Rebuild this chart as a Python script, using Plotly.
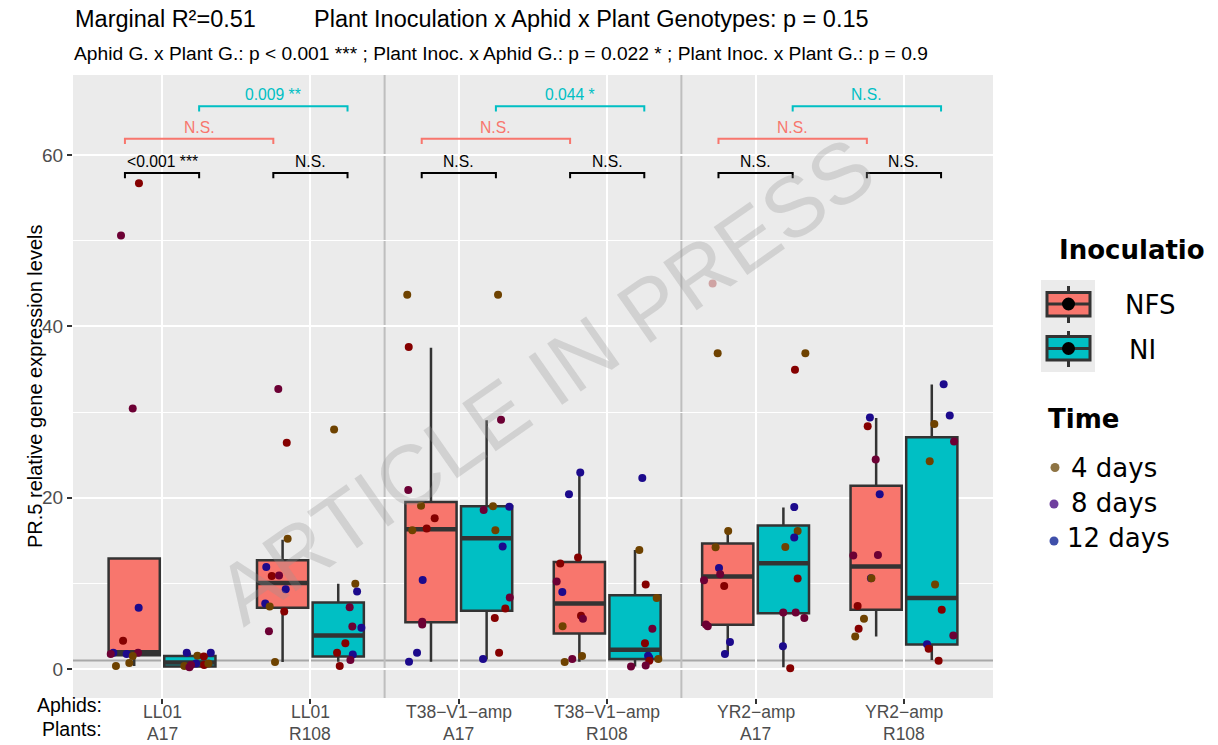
import plotly.graph_objects as go

# ---- categories -------------------------------------------------------------
aphids = ["LL01", "LL01", "T38−V1−amp", "T38−V1−amp", "YR2−amp", "YR2−amp"]
plants = ["A17", "R108", "A17", "R108", "A17", "R108"]

# ---- box summaries (lower whisker, Q1, median, Q3, upper whisker) ------------
nfs_low = [0.35, 0.8, 0.85, 0.85, 1.75, 3.8]
nfs_q1 = [1.6, 7.15, 5.45, 4.15, 5.15, 6.9]
nfs_med = [1.95, 10.05, 16.3, 7.65, 10.8, 11.95]
nfs_q3 = [12.9, 12.7, 19.5, 12.5, 14.65, 21.4]
nfs_high = [12.9, 15.1, 37.5, 22.95, 16.1, 29.3]

ni_low = [0.2, 0.85, 1.1, 0.3, 0.2, 1.05]
ni_q1 = [0.3, 1.45, 6.8, 1.15, 6.5, 2.85]
ni_med = [0.75, 3.9, 15.25, 2.25, 12.35, 8.3]
ni_q3 = [1.5, 7.75, 19.0, 8.6, 16.75, 27.05]
ni_high = [1.9, 9.95, 29.05, 13.9, 18.85, 33.2]

# ---- individual samples: values, horizontal jitter, shade code -------------
nfs_values = [
    [56.7, 50.6, 30.4, 7.15, 3.3, 1.9, 1.75, 1.75, 1.9, 1.5, 0.7, 0.35],
    [32.7, 26.4, 15.2, 11.9, 10.85, 10.9, 9.3, 7.65, 7.3, 6.7, 4.4, 0.8],
    [43.7, 37.6, 20.9, 19.05, 17.6, 16.2, 16.4, 10.4, 5.5, 5.2, 1.9, 0.85],
    [22.95, 20.4, 13.0, 12.3, 10.2, 9.0, 6.2, 5.85, 5.0, 1.5, 1.15, 0.8],
    [45.0, 36.85, 16.1, 14.2, 11.8, 11.05, 10.35, 9.7, 5.2, 5.0, 3.15, 1.75],
    [29.35, 28.35, 24.45, 20.4, 13.25, 13.3, 10.6, 10.6, 7.35, 5.85, 4.7, 3.8],
]
nfs_jitter = [
    [0.032, -0.089, -0.010, 0.030, -0.075, -0.141, -0.158, -0.051, 0.026, -0.010, -0.033, -0.123],
    [-0.029, 0.028, 0.034, -0.110, -0.073, -0.024, 0.021, -0.117, -0.087, 0.011, -0.092, -0.051],
    [-0.160, -0.150, -0.153, -0.067, 0.025, -0.126, -0.029, -0.056, -0.059, -0.059, -0.094, -0.148],
    [0.006, -0.070, -0.009, -0.129, -0.153, -0.115, 0.011, 0.024, -0.113, 0.018, -0.048, -0.099],
    [-0.102, -0.068, 0.003, -0.082, -0.059, -0.051, -0.160, -0.024, -0.147, -0.135, 0.015, -0.019],
    [-0.042, -0.057, -0.003, 0.024, -0.154, 0.012, -0.035, -0.032, -0.125, -0.082, -0.118, -0.141],
]
nfs_shade = ["rmmnrnmnmbbb", "mrbnrmnnbrmb", "brmbrbrnmmnn",
             "nnrrmnrmbbmb", "pbbbnmmrmmnn", "nrmnmmnbrbrb"]

ni_values = [
    [1.9, 1.9, 1.55, 1.45, 0.35, 0.2, 0.65, 0.45, 0.65, 0.45],
    [27.95, 9.95, 9.05, 7.2, 4.95, 4.8, 3.0, 1.9, 1.7, 1.05, 0.35],
    [43.7, 29.1, 18.55, 19.0, 18.95, 16.2, 14.3, 8.35, 7.05, 5.95, 1.9, 1.15],
    [22.3, 13.9, 9.85, 8.3, 4.7, 3.0, 1.55, 1.3, 1.15, 0.95, 0.3, 0.4],
    [36.85, 34.95, 18.9, 16.1, 15.35, 14.25, 10.55, 6.6, 6.6, 5.95, 2.65, 0.08],
    [33.25, 29.6, 28.6, 26.55, 24.25, 9.85, 6.9, 3.9, 2.9, 2.35, 0.95],
]
ni_jitter = [
    [-0.021, 0.141, 0.051, 0.094, -0.037, -0.003, 0.042, 0.096, 0.125, 0.008],
    [-0.028, 0.115, 0.127, 0.077, 0.095, 0.156, 0.048, -0.008, 0.098, 0.082, 0.010],
    [0.077, 0.097, -0.020, 0.043, 0.153, 0.059, 0.108, 0.156, 0.126, 0.055, 0.084, -0.024],
    [0.049, 0.029, 0.072, 0.146, 0.117, 0.067, 0.088, 0.096, 0.157, 0.096, -0.027, 0.072],
    [0.148, 0.078, 0.073, 0.096, 0.073, 0.013, 0.096, -0.001, 0.083, 0.141, -0.003, 0.046],
    [0.080, 0.121, 0.017, 0.150, -0.014, 0.022, 0.067, 0.145, -0.032, -0.021, 0.046],
]
ni_shade = ["nnbrbmnrbm", "bbnmmnrrnmr", "bmmbnbnmrrrn",
            "nbrbmrnnbrmm", "brnbnbrmmmnr", "nnbmbbrmnrr"]

# ---- pairwise comparison labels ---------------------------------------------
inoc_pvals = ["<0.001 ***", "N.S.", "N.S.", "N.S.", "N.S.", "N.S."]
nfs_plant_pvals = ["N.S.", "N.S.", "N.S."]
ni_plant_pvals = ["0.009 **", "0.044 *", "N.S."]

inoc_levels = ["NFS", "NI"]
time_levels = ["4 days", "8 days", "12 days"]

# ---- styling ----------------------------------------------------------------
NFS_COL = "#F8766D"
NI_COL = "#00BFC4"
EDGE = "#333333"
SHADES = {"b": "#6E4200", "r": "#850000", "m": "#6C0034", "n": "#1C0A8C", "p": "#CFA3A3"}
TIME_KEY = ["#8E7444", "#6F3F9E", "#3F4FAA"]
SANS = "Liberation Sans, Arial, sans-serif"
DEJA = "DejaVu Sans, sans-serif"
AXIS_TXT = "#4D4D4D"

DODGE = 0.1875
BOX_W = 0.345

# pixel geometry of the panel inside the 1218x745 page
L, R, T, B = 73, 225, 75, 47
W, H = 1218, 745
PW, PH = W - L - R, H - T - B


def px(x):
    return (x - L) / PW


def py(y):
    return (H - B - y) / PH


fig = go.Figure()

pos = list(range(1, 7))
nfs_x = [p - DODGE for p in pos]
ni_x = [p + DODGE for p in pos]

for xs, lo, q1, md, q3, hi, col in [
    (nfs_x, nfs_low, nfs_q1, nfs_med, nfs_q3, nfs_high, NFS_COL),
    (ni_x, ni_low, ni_q1, ni_med, ni_q3, ni_high, NI_COL),
]:
    fig.add_trace(go.Box(
        x=xs, lowerfence=lo, q1=q1, median=md, q3=q3, upperfence=hi,
        width=BOX_W, fillcolor=col, line=dict(color=EDGE, width=2.5),
        whiskerwidth=0, boxpoints=False, showlegend=False, hoverinfo="skip",
    ))
    # heavier median bar, as in ggplot boxplots
    mx, my = [], []
    for x, m in zip(xs, md):
        mx += [x - BOX_W / 2, x + BOX_W / 2, None]
        my += [m, m, None]
    fig.add_trace(go.Scatter(x=mx, y=my, mode="lines",
                             line=dict(color=EDGE, width=4.5),
                             showlegend=False, hoverinfo="skip"))

# jittered samples
for xs, vals, jit, shades in [
    (nfs_x, nfs_values, nfs_jitter, nfs_shade),
    (ni_x, ni_values, ni_jitter, ni_shade),
]:
    px_, py_, pc_ = [], [], []
    for x, v, j, s in zip(xs, vals, jit, shades):
        for vi, ji, si in zip(v, j, s):
            px_.append(x + ji)
            py_.append(vi)
            pc_.append(SHADES[si])
    fig.add_trace(go.Scatter(x=px_, y=py_, mode="markers",
                             marker=dict(size=8, color=pc_, line=dict(width=0)),
                             showlegend=False, hoverinfo="skip"))

shapes = []
annotations = []

# reference line at relative expression 1 and aphid separators
shapes.append(dict(type="line", xref="paper", x0=0, x1=1, yref="y", y0=1, y1=1,
                   line=dict(color="#A8A8A8", width=2), layer="between"))
for xv in [2.5, 4.5]:
    shapes.append(dict(type="line", xref="x", x0=xv, x1=xv, yref="paper", y0=0, y1=1,
                       line=dict(color="#BEBEBE", width=2), layer="between"))


def bracket(x0, x1, y, color, label):
    tick = 0.6
    shapes.append(dict(type="path", xref="x", yref="y",
                       path=f"M {x0},{y - tick} L {x0},{y} L {x1},{y} L {x1},{y - tick}",
                       line=dict(color=color, width=2)))
    annotations.append(dict(xref="x", yref="y", x=(x0 + x1) / 2, y=y, text=label,
                            showarrow=False, yanchor="bottom", yshift=1,
                            font=dict(family=SANS, size=15.7, color=color)))


for i, lab in enumerate(inoc_pvals):
    bracket(pos[i] - 0.25, pos[i] + 0.25, 57.9, "black", lab)
for k in range(3):
    a, b = pos[2 * k], pos[2 * k + 1]
    bracket(a - 0.25, b - 0.25, 61.9, NFS_COL, nfs_plant_pvals[k])
    bracket(a + 0.25, b + 0.25, 65.7, NI_COL, ni_plant_pvals[k])

# two-line category labels under the axis
for p, a, pl in zip(pos, aphids, plants):
    annotations.append(dict(xref="x", yref="paper", x=p, y=py(712), yanchor="middle",
                            text=a, showarrow=False, borderpad=0,
                            font=dict(family=SANS, size=17.5, color=AXIS_TXT)))
    annotations.append(dict(xref="x", yref="paper", x=p, y=py(733.5), yanchor="middle",
                            text=pl, showarrow=False, borderpad=0,
                            font=dict(family=SANS, size=17.5, color=AXIS_TXT)))

# titles
annotations += [
    dict(xref="paper", yref="paper", x=px(73), y=py(19), xanchor="left", yanchor="middle",
         text="Marginal R²=0.51", showarrow=False,
         font=dict(family=SANS, size=23.5, color="black")),
    dict(xref="paper", yref="paper", x=px(312), y=py(19), xanchor="left", yanchor="middle",
         text="Plant Inoculation x Aphid x Plant Genotypes: p = 0.15", showarrow=False,
         font=dict(family=SANS, size=23.5, color="black")),
    dict(xref="paper", yref="paper", x=px(72), y=py(53), xanchor="left", yanchor="middle",
         text="Aphid G. x Plant G.: p < 0.001 *** ; Plant Inoc. x Aphid G.: p = 0.022 * ; "
              "Plant Inoc. x Plant G.: p = 0.9",
         showarrow=False, font=dict(family=SANS, size=19.2, color="black")),
    dict(xref="paper", yref="paper", x=px(22), y=py(386), textangle=-90,
         text="PR.5 relative gene expression levels", showarrow=False,
         font=dict(family=SANS, size=20, color="black")),
    dict(xref="paper", yref="paper", x=px(103), y=py(705), xanchor="right", yanchor="middle",
         text="Aphids:", showarrow=False, borderpad=0,
         font=dict(family=SANS, size=19.5, color="black")),
    dict(xref="paper", yref="paper", x=px(103), y=py(729), xanchor="right", yanchor="middle",
         text="Plants:", showarrow=False, borderpad=0,
         font=dict(family=SANS, size=19.5, color="black")),
]

# watermark
annotations.append(dict(xref="paper", yref="paper", x=px(545), y=py(380), textangle=-35,
                        text="ARTICLE IN PRESS", showarrow=False,
                        font=dict(family=SANS, size=85, color="rgba(150,150,150,0.30)")))

# ---- legend: Inoculation ----------------------------------------------------
annotations.append(dict(xref="paper", yref="paper", x=px(1057), y=py(250), xanchor="left",
                        yanchor="middle", text="<b>Inoculatio</b>", showarrow=False,
                        font=dict(family=DEJA, size=26, color="black")))
shapes.append(dict(type="rect", xref="paper", yref="paper", x0=px(1041), x1=px(1095),
                   y0=py(372), y1=py(280), fillcolor="#EBEBEB", line=dict(width=0)))
key_rows = [(292.5, 316, 286, 323, 304), (336.5, 360, 331, 367, 348.5)]
label_left = [1123, 1127]
for (top, bot, wt, wb, mid), col, lab, lx in zip(key_rows, [NFS_COL, NI_COL],
                                                  inoc_levels, label_left):
    cx = 1068.5
    shapes.append(dict(type="line", xref="paper", yref="paper", x0=px(cx), x1=px(cx),
                       y0=py(wt), y1=py(wb), line=dict(color=EDGE, width=3)))
    shapes.append(dict(type="rect", xref="paper", yref="paper", x0=px(1047), x1=px(1090),
                       y0=py(bot), y1=py(top), fillcolor=col, line=dict(color=EDGE, width=3)))
    shapes.append(dict(type="line", xref="paper", yref="paper", x0=px(1047), x1=px(1090),
                       y0=py(mid), y1=py(mid), line=dict(color=EDGE, width=3)))
    shapes.append(dict(type="circle", xref="paper", yref="paper", x0=px(cx - 6.5),
                       x1=px(cx + 6.5), y0=py(mid + 6.5), y1=py(mid - 6.5),
                       fillcolor="black", line=dict(width=0)))
    annotations.append(dict(xref="paper", yref="paper", x=px(lx), y=py(mid + 1),
                            xanchor="left", yanchor="middle", text=lab, showarrow=False,
                            font=dict(family=DEJA, size=26, color="black")))

# ---- legend: Time -----------------------------------------------------------
annotations.append(dict(xref="paper", yref="paper", x=px(1046), y=py(419), xanchor="left",
                        yanchor="middle", text="<b>Time</b>", showarrow=False,
                        font=dict(family=DEJA, size=26, color="black")))
time_rows = [(1055, 467.5, 1069, 468), (1054, 504, 1069, 503), (1054, 541, 1065, 538)]
for (dx_, dy_, tx, ty), col, lab in zip(time_rows, TIME_KEY, time_levels):
    shapes.append(dict(type="circle", xref="paper", yref="paper", x0=px(dx_ - 4.5),
                       x1=px(dx_ + 4.5), y0=py(dy_ + 4.5), y1=py(dy_ - 4.5),
                       fillcolor=col, line=dict(width=0)))
    annotations.append(dict(xref="paper", yref="paper", x=px(tx), y=py(ty), xanchor="left",
                            yanchor="middle", text=lab, showarrow=False,
                            font=dict(family=DEJA, size=26, color="black")))

fig.update_layout(
    width=W, height=H,
    margin=dict(l=L, r=R, t=T, b=B, pad=0),
    paper_bgcolor="white", plot_bgcolor="#EBEBEB",
    boxmode="overlay", showlegend=False,
    shapes=shapes, annotations=annotations,
    xaxis=dict(
        range=[0.4, 6.6], tickmode="array", tickvals=pos, showticklabels=False,
        ticks="outside", ticklen=5, tickwidth=1.5, tickcolor=EDGE,
        showgrid=True, gridcolor="white", gridwidth=2,
        zeroline=False, showline=False, automargin=False,
    ),
    yaxis=dict(
        range=[-3.39, 69.35], tickmode="array", tickvals=[0, 20, 40, 60],
        ticks="outside", ticklen=5, tickwidth=1.5, tickcolor=EDGE,
        tickfont=dict(family=SANS, size=19, color=AXIS_TXT),
        showgrid=True, gridcolor="white", gridwidth=2,
        minor=dict(tickvals=[10, 30, 50], showgrid=True, gridcolor="white", gridwidth=1,
                   ticks=""),
        zeroline=False, showline=False, automargin=False,
    ),
)

fig.write_html("out.html")
